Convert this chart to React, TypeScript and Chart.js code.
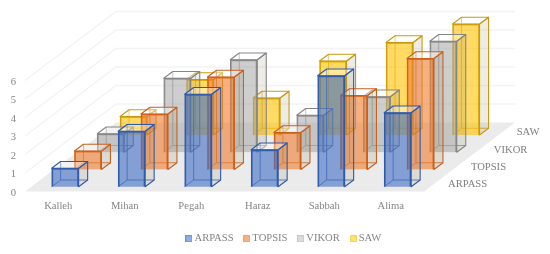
import React, { useEffect, useRef } from "react";
import { Chart, registerables } from "chart.js";

Chart.register(...registerables);

const categories = ["Kalleh", "Mihan", "Pegah", "Haraz", "Sabbah", "Alima"];
const seriesNames = ["ARPASS", "TOPSIS", "VIKOR", "SAW"];
const arpass = [1, 3, 5, 2, 6, 4];
const topsis = [1, 3, 5, 2, 4, 6];
const vikor = [1, 4, 5, 2, 3, 6];
const saw = [1, 3, 2, 4, 5, 6];
const seriesValues = [arpass, topsis, vikor, saw];

const fills = ["rgba(62,108,196,0.6)", "rgba(240,125,49,0.6)", "rgba(165,165,165,0.55)", "rgba(255,195,0,0.6)"];
const edges = ["#2f5aa8", "#c9601c", "#858585", "#c99a10"];
const swatchFills = ["#8fb0e8", "#f9b27f", "#dcdcdc", "#ffe270"];
const swatchEdges = ["#6f95d8", "#f3a46c", "#c8c8c8", "#f5d65a"];

const FONT = "'Liberation Serif', serif";
const TEXT = "#858585";
const STEP_X = 22.8;
const STEP_Y = -17.25;
const INSET_X = 6.9;
const INSET_Y = -4.8;
const BOX_X = 9;
const BOX_Y = -6.7;
const FLOOR_X = 91;
const FLOOR_Y = -69;
const AXIS_BOTTOM = 191.5;

function makeSwatch(i: number) {
  const c = document.createElement("canvas");
  c.width = 7;
  c.height = 7;
  const g = c.getContext("2d")!;
  g.fillStyle = swatchFills[i];
  g.fillRect(0, 0, 7, 7);
  g.strokeStyle = swatchEdges[i];
  g.lineWidth = 1;
  g.strokeRect(0.5, 0.5, 6, 6);
  return c;
}

const box3d = {
  id: "box3d",
  afterLayout(chart: any) {
    const l = chart.legend;
    const d = 285 - (l.left + l.right) / 2;
    l.left += d;
    l.right += d;
  },
  beforeDatasetsDraw(chart: any) {
    const { ctx, scales } = chart;
    const xs = scales.x;
    const ys = scales.y;
    const left = xs.left;
    const right = xs.right;
    const y0 = ys.getPixelForValue(0);
    ctx.save();
    ctx.fillStyle = "#ebebeb";
    ctx.beginPath();
    ctx.moveTo(left, y0);
    ctx.lineTo(right, y0);
    ctx.lineTo(right + FLOOR_X, y0 + FLOOR_Y);
    ctx.lineTo(left + FLOOR_X, y0 + FLOOR_Y);
    ctx.closePath();
    ctx.fill();
    ctx.strokeStyle = "#f3f3f3";
    ctx.lineWidth = 1.3;
    ys.ticks.forEach((t: any) => {
      if (t.value === 0) return;
      const y = ys.getPixelForValue(t.value);
      ctx.beginPath();
      ctx.moveTo(left, y);
      ctx.lineTo(left + FLOOR_X, y + FLOOR_Y);
      ctx.lineTo(right + FLOOR_X, y + FLOOR_Y);
      ctx.stroke();
    });
    ctx.fillStyle = "#808080";
    ctx.font = "10.6px " + FONT;
    ctx.textAlign = "left";
    ctx.textBaseline = "middle";
    seriesNames.forEach((name, i) => {
      ctx.fillText(name, right + 24 + i * 22.9, y0 - 7.2 + i * STEP_Y);
    });
    ctx.restore();
  },
  beforeDatasetDraw(chart: any, args: any) {
    const { ctx } = chart;
    const i = args.index;
    ctx.save();
    ctx.translate(INSET_X + i * STEP_X, INSET_Y + i * STEP_Y);
    ctx.lineWidth = 1;
    ctx.strokeStyle = edges[i];
    ctx.globalAlpha = 0.75;
    args.meta.data.forEach((b: any) => {
      const p = b.getProps(["x", "y", "base", "width"], true);
      const l = p.x - p.width / 2 + BOX_X;
      const r = p.x + p.width / 2 + BOX_X;
      const t = p.y + BOX_Y;
      const bt = p.base + BOX_Y;
      ctx.beginPath();
      ctx.moveTo(l, t);
      ctx.lineTo(l, bt);
      ctx.lineTo(r, bt);
      ctx.moveTo(l, bt);
      ctx.lineTo(l - BOX_X, bt - BOX_Y);
      ctx.stroke();
    });
    ctx.globalAlpha = 1;
  },
  afterDatasetDraw(chart: any, args: any) {
    const { ctx } = chart;
    const i = args.index;
    ctx.lineWidth = 1.1;
    ctx.lineJoin = "round";
    ctx.strokeStyle = edges[i];
    args.meta.data.forEach((b: any) => {
      const p = b.getProps(["x", "y", "base", "width"], true);
      const l = p.x - p.width / 2;
      const r = p.x + p.width / 2;
      ctx.fillStyle = "rgba(120,105,70,0.13)";
      ctx.beginPath();
      ctx.moveTo(r, p.y);
      ctx.lineTo(r + BOX_X, p.y + BOX_Y);
      ctx.lineTo(r + BOX_X, p.base + BOX_Y);
      ctx.lineTo(r, p.base);
      ctx.closePath();
      ctx.fill();
      ctx.stroke();
      ctx.fillStyle = "rgba(255,255,255,0.35)";
      ctx.beginPath();
      ctx.moveTo(l, p.y);
      ctx.lineTo(l + BOX_X, p.y + BOX_Y);
      ctx.lineTo(r + BOX_X, p.y + BOX_Y);
      ctx.lineTo(r, p.y);
      ctx.closePath();
      ctx.fill();
      ctx.stroke();
    });
    ctx.restore();
  },
};

export default function App() {
  const ref = useRef<HTMLCanvasElement>(null);
  useEffect(() => {
    document.body.style.margin = "0";
    const swatches = seriesNames.map((_, i) => makeSwatch(i));
    const chart = new Chart(ref.current!, {
      type: "bar",
      plugins: [box3d],
      data: {
        labels: categories,
        datasets: seriesNames.map((name, i) => ({
          label: name,
          data: seriesValues[i],
          backgroundColor: fills[i],
          borderColor: edges[i],
          borderWidth: 1.2,
          barThickness: 27,
          grouped: false,
          clip: false,
        })),
      } as any,
      options: {
        responsive: false,
        animation: false,
        devicePixelRatio: 1,
        layout: { padding: { left: 0, right: 126, top: 80.5, bottom: 0 } },
        plugins: {
          title: { display: false },
          tooltip: { enabled: false },
          legend: {
            position: "bottom",
            labels: {
              color: TEXT,
              font: { family: FONT, size: 10.6 },
              usePointStyle: true,
              boxWidth: 0.5,
              boxHeight: 7,
              padding: 13,
              generateLabels: () =>
                seriesNames.map((name, i) => ({
                  text: name,
                  datasetIndex: i,
                  pointStyle: swatches[i],
                  fontColor: TEXT,
                  lineWidth: 0,
                  hidden: false,
                })),
            },
          },
        },
        scales: {
          x: {
            grid: { display: false, drawTicks: false },
            border: { display: false },
            ticks: { color: TEXT, font: { family: FONT, size: 10.6 }, padding: 8.5, maxRotation: 0 },
            afterFit: (s: any) => {
              s.height = 254 - AXIS_BOTTOM - (s.chart.legend?.height || 37);
            },
          },
          y: {
            min: 0,
            max: 6,
            grid: { display: false, drawTicks: false },
            border: { display: false },
            ticks: { stepSize: 1, color: TEXT, font: { family: FONT, size: 10.6 }, padding: 9, labelOffset: 1.5 },
            afterFit: (s: any) => {
              s.width = 25;
            },
          },
        },
      } as any,
    });
    return () => chart.destroy();
  }, []);
  return <canvas ref={ref} width={550} height={254} style={{ display: "block", width: 550, height: 254 }} />;
}
